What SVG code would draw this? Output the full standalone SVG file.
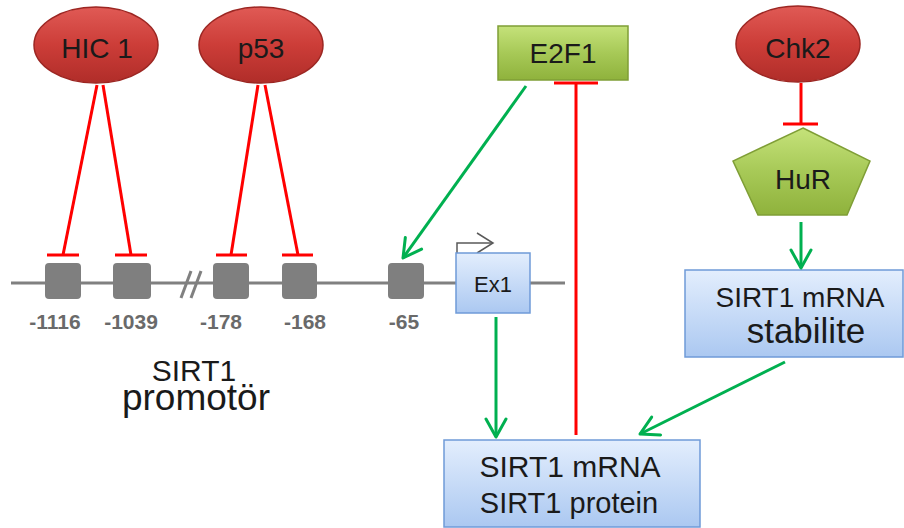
<svg xmlns="http://www.w3.org/2000/svg" width="904" height="528" viewBox="0 0 904 528">
<defs>
  <linearGradient id="gRed" x1="0" y1="0" x2="0" y2="1">
    <stop offset="0" stop-color="#e05a55"/>
    <stop offset="0.5" stop-color="#cc3d38"/>
    <stop offset="1" stop-color="#b02d29"/>
  </linearGradient>
  <linearGradient id="gGreen" x1="0" y1="0" x2="0" y2="1">
    <stop offset="0" stop-color="#c5e27a"/>
    <stop offset="0.5" stop-color="#a7c957"/>
    <stop offset="1" stop-color="#8fb23c"/>
  </linearGradient>
  <linearGradient id="gBlue" x1="0" y1="0" x2="0" y2="1">
    <stop offset="0" stop-color="#e3eefd"/>
    <stop offset="1" stop-color="#abc8f1"/>
  </linearGradient>
  <marker id="ah" viewBox="0 0 22 24" refX="20" refY="12" markerWidth="22" markerHeight="24" markerUnits="userSpaceOnUse" orient="auto">
    <path d="M2,2 L20,12 L2,22" fill="none" stroke="#00b050" stroke-width="3" stroke-linecap="round" stroke-linejoin="round"/>
  </marker>
</defs>
<style>
  .lbl { font-family: "Liberation Sans", Arial, sans-serif; fill: #1a1a1a; text-anchor: middle; }
  .num { font-family: "Liberation Sans", Arial, sans-serif; fill: #6a6a6a; font-weight: bold; font-size: 21px; text-anchor: middle; }
  .ell { fill: url(#gRed); stroke: #9c2622; stroke-width: 1.5; }
  .grn { fill: url(#gGreen); stroke: #7f9e36; stroke-width: 1.5; }
  .blu { fill: url(#gBlue); stroke: #6f9ad8; stroke-width: 1.5; }
  .site { fill: #7f7f7f; }
  .inh { stroke: #ff0000; stroke-width: 3; fill: none; }
  .act { stroke: #00b050; stroke-width: 3; fill: none; marker-end: url(#ah); }
  .dna { stroke: #808080; stroke-width: 3; fill: none; }
</style>

<!-- DNA backbone -->
<g id="promoter">
  <line class="dna" x1="11" y1="283" x2="565" y2="283"/>
  <line x1="181" y1="298" x2="191" y2="271" stroke="#808080" stroke-width="3"/>
  <line x1="191" y1="298" x2="201" y2="271" stroke="#808080" stroke-width="3"/>
  <rect class="site" x="45" y="263" width="36" height="36" rx="4"/>
  <rect class="site" x="113" y="263" width="38" height="36" rx="4"/>
  <rect class="site" x="213" y="263" width="36" height="36" rx="4"/>
  <rect class="site" x="282" y="263" width="35" height="36" rx="4"/>
  <rect class="site" x="388" y="263" width="36" height="36" rx="4"/>
  <text class="num" x="55" y="329">-1116</text>
  <text class="num" x="131" y="329">-1039</text>
  <text class="num" x="221" y="329">-178</text>
  <text class="num" x="305" y="329">-168</text>
  <text class="num" x="404" y="329">-65</text>
  <text class="lbl" x="194" y="381" font-size="30">SIRT1</text>
  <text class="lbl" x="196" y="410" font-size="37">promotör</text>
</g>

<g id="ex1">
  <polyline points="457,253 457,243 492,243" fill="none" stroke="#595959" stroke-width="1.5"/>
  <polyline points="477,233 493,243 477,253" fill="none" stroke="#595959" stroke-width="1.5"/>
  <rect class="blu" x="456" y="253" width="74" height="60"/>
  <text class="lbl" x="493" y="292" font-size="22">Ex1</text>
</g>

<g id="hic1">
  <ellipse class="ell" cx="96" cy="45" rx="62" ry="38"/>
  <text class="lbl" x="97" y="58" font-size="28">HIC 1</text>
</g>
<g id="p53">
  <ellipse class="ell" cx="261" cy="45" rx="62" ry="38"/>
  <text class="lbl" x="261" y="58" font-size="28">p53</text>
</g>
<g id="e2f1">
  <rect class="grn" x="498" y="26" width="130" height="54"/>
  <text class="lbl" x="563" y="63" font-size="28">E2F1</text>
</g>
<g id="chk2">
  <ellipse class="ell" cx="798" cy="44" rx="62" ry="38"/>
  <text class="lbl" x="798" y="58" font-size="28">Chk2</text>
</g>
<g id="hur">
  <polygon class="grn" points="803,128 870,161 847,215 758,215 733,161"/>
  <text class="lbl" x="803" y="189" font-size="28">HuR</text>
</g>
<g id="stabilite">
  <rect class="blu" x="685" y="270" width="218" height="87"/>
  <text class="lbl" x="800" y="307" font-size="28">SIRT1 mRNA</text>
  <text class="lbl" x="806" y="343" font-size="35">stabilite</text>
</g>
<g id="protein">
  <rect class="blu" x="444" y="440" width="256" height="87"/>
  <text class="lbl" x="570" y="477" font-size="30">SIRT1 mRNA</text>
  <text class="lbl" x="569" y="513" font-size="29">SIRT1 protein</text>
</g>

<g id="connectors">
  <!-- HIC1 inhibitions -->
  <line class="inh" x1="97" y1="85" x2="63" y2="255"/>
  <line class="inh" x1="47" y1="255" x2="79" y2="255"/>
  <line class="inh" x1="103" y1="85" x2="131" y2="255"/>
  <line class="inh" x1="115" y1="255" x2="147" y2="255"/>
  <!-- p53 inhibitions -->
  <line class="inh" x1="258" y1="85" x2="231" y2="255"/>
  <line class="inh" x1="216" y1="255" x2="247" y2="255"/>
  <line class="inh" x1="265" y1="85" x2="298" y2="255"/>
  <line class="inh" x1="282" y1="255" x2="313" y2="255"/>
  <!-- E2F1 inhibited by SIRT1 -->
  <line class="inh" x1="576" y1="435" x2="576" y2="83"/>
  <line class="inh" x1="554" y1="83" x2="598" y2="83"/>
  <!-- Chk2 inhibits HuR -->
  <line class="inh" x1="801" y1="83" x2="801" y2="124"/>
  <line class="inh" x1="783" y1="124" x2="818" y2="124"/>
  <!-- activations -->
  <line class="act" x1="526" y1="86" x2="403" y2="258"/>
  <line class="act" x1="496" y1="317" x2="496" y2="437"/>
  <line class="act" x1="801" y1="222" x2="801" y2="268"/>
  <line class="act" x1="785" y1="362" x2="640" y2="434"/>
</g>
</svg>
